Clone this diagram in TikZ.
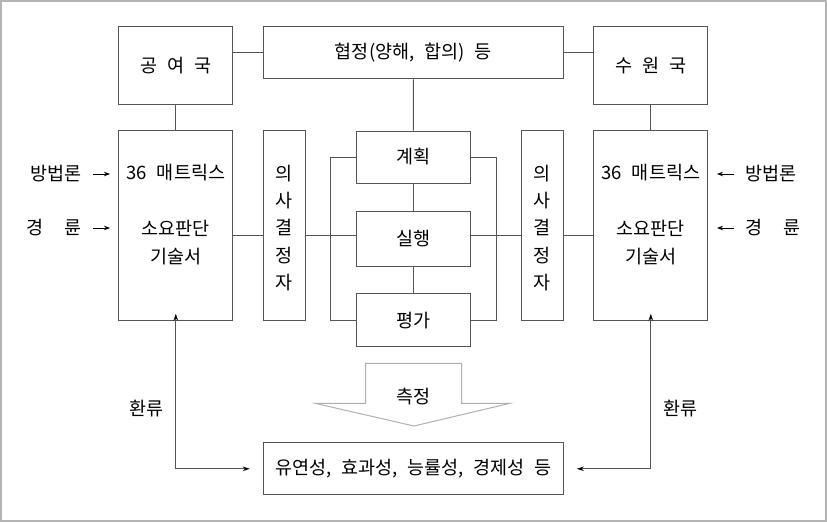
\documentclass[tikz,border=0pt]{standalone}
\usepackage{fontspec}
\setmainfont{Noto Sans CJK KR}[WordSpace=2.4]
\usetikzlibrary{arrows.meta}
\definecolor{linec}{HTML}{555555}
\definecolor{framec}{HTML}{B4B4B4}
\definecolor{arrc}{HTML}{B0B0B0}
\begin{document}
\begin{tikzpicture}[x=1pt,y=-1pt,
  box/.style={draw=linec, line width=1pt, inner sep=0pt, font=\fontsize{18.5}{22}\selectfont},
  conn/.style={draw=linec, line width=1pt},
  fb/.style={draw=linec, line width=1pt, -{Stealth[length=7pt,width=4.5pt,black]}},
  sarr/.style={draw=black, line width=0.8pt, -{Stealth[length=6pt,width=4.5pt,black]}},
  txt/.style={font=\fontsize{18.5}{22}\selectfont, inner sep=0pt},
  vtxt/.style={font=\fontsize{18.5}{27.3}\selectfont, inner sep=0pt, align=center},
]
\useasboundingbox (0,0) rectangle (827,522);
\draw[framec, line width=1.5pt] (1,1) rectangle (826,521);

% top row
\node[box, minimum width=113.7pt, minimum height=78.3pt] (don) at (175.8,65.8) {공 여 국};
\node[box, minimum width=300pt, minimum height=52.3pt] (agr) at (413.3,52.8) {협정(양해, 합의) 등};
\node[box, minimum width=113.7pt, minimum height=78.3pt] (rec) at (650.8,65.8) {수 원 국};

% big boxes
\node[box, minimum width=113.7pt, minimum height=189.7pt] (lbig) at (175.8,225.8) {};
\node[box, minimum width=113.7pt, minimum height=189.7pt] (rbig) at (650.8,225.8) {};
\node[box, minimum width=41.7pt, minimum height=189.7pt] (ldec) at (284.2,225.8) {};
\node[box, minimum width=41.7pt, minimum height=189.7pt] (rdec) at (542.5,225.8) {};

% center column
\node[box, minimum width=113.5pt, minimum height=52pt] (plan) at (413.4,157) {계획};
\node[box, minimum width=113.5pt, minimum height=55pt] (exe) at (413.4,238.5) {실행};
\node[box, minimum width=113.5pt, minimum height=52.7pt] (eval) at (413.4,320.3) {평가};

% bottom box
\node[box, minimum width=300pt, minimum height=52.3pt] (res) at (413.3,468.8) {유연성, 효과성, 능률성, 경제성 등};

% texts in big boxes
\node[txt] (l36) at (175.8,173) {36 매트릭스};
\node[txt] (l1) at (175.8,228) {소요판단};
\node[txt] (l2) at (175.8,257) {기술서};
\node[txt] (r36) at (650.8,173) {36 매트릭스};
\node[txt] (r1) at (650.8,228) {소요판단};
\node[txt] (r2) at (650.8,257) {기술서};
\node[vtxt] (ldt) at (284.2,228) {의\\사\\결\\정\\자};
\node[vtxt] (rdt) at (542.5,228) {의\\사\\결\\정\\자};

% outside labels
\node[txt, anchor=east] (lm) at (82,174) {방법론};
\node[txt, anchor=east] (lk) at (82,228) {경\hspace{21pt}륜};
\node[txt, anchor=west] (rm) at (745,174) {방법론};
\node[txt, anchor=west] (rk) at (745,228) {경\hspace{21pt}륜};
\coordinate (lmA) at (93,174); \coordinate (lmB) at (110,174);
\coordinate (lkA) at (93,228); \coordinate (lkB) at (110,228);
\coordinate (rmA) at (734,174); \coordinate (rmB) at (717,174);
\coordinate (rkA) at (734,228); \coordinate (rkB) at (717,228);
\draw[sarr] (lmA) -- (lmB);
\draw[sarr] (lkA) -- (lkB);
\draw[sarr] (rmA) -- (rmB);
\draw[sarr] (rkA) -- (rkB);

% connectors top
\coordinate (topy) at (0,52.5);
\draw[conn] (don.east |- topy) -- (agr.west |- topy);
\draw[conn] (agr.east |- topy) -- (rec.west |- topy);
\draw[conn] (don.south) -- (lbig.north);
\draw[conn] (rec.south) -- (rbig.north);
\draw[conn] (agr.south) -- (plan.north);
\draw[conn] (plan.south) -- (exe.north);
\draw[conn] (exe.south) -- (eval.north);

% middle row
\coordinate (midy) at (0,235);
\draw[conn] (lbig.east |- midy) -- (ldec.west |- midy);
\draw[conn] (ldec.east |- midy) -- (exe.west |- midy);
\draw[conn] (exe.east |- midy) -- (rdec.west |- midy);
\draw[conn] (rdec.east |- midy) -- (rbig.west |- midy);

% brackets
\draw[conn] (plan.west) -- ++(-26,0) |- (eval.west);
\draw[conn] (plan.east) -- ++(26,0) |- (eval.east);

% measure arrow
\draw[arrc, line width=1pt, fill=white] (365.7,363.3) -- (461.7,363.3) -- (461.7,403.3) -- (510,403.3) -- (414,426) -- (315,403.3) -- (365.7,403.3) -- cycle;
\node[txt] (meas) at (413.5,397) {측정};

% feedback
\coordinate (lc) at (175.8,468.8);
\coordinate (rc) at (650.8,468.8);
\draw[fb] (lc) -- ([yshift=7.5pt]lbig.south);
\draw[fb] (lc) -- ([xshift=-13pt]res.west);
\draw[fb] (rc) -- ([yshift=7.5pt]rbig.south);
\draw[fb] (rc) -- ([xshift=13pt]res.east);
\node[txt] (lfb) at (146.5,409) {환류};
\node[txt] (rfb) at (680.5,409) {환류};
\end{tikzpicture}
\end{document}
